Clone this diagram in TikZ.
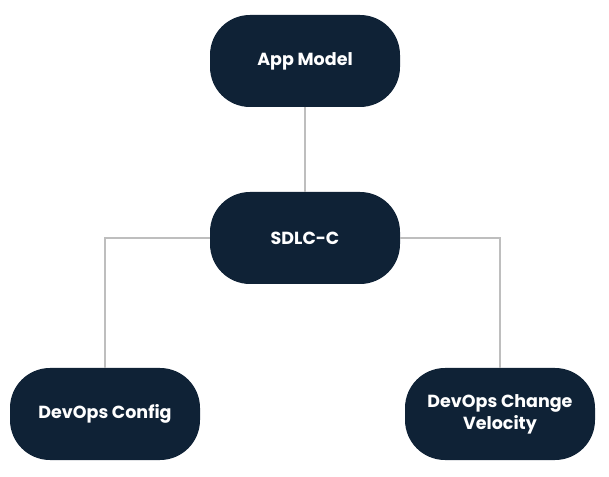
\documentclass[tikz,border=0pt]{standalone}
\usepackage{fontspec}
\setmainfont{Poppins}
\begin{document}
\begin{tikzpicture}[x=1pt,y=1pt,
  box/.style={draw=none,fill={rgb,255:red,15;green,34;blue,54},rounded corners=40pt,minimum width=190pt,minimum height=92pt,text=white,font=\bfseries\fontsize{17.5}{22}\selectfont,align=center,inner sep=0pt},
  link/.style={draw={rgb,255:red,190;green,190;blue,190},line width=1.2pt}]
\useasboundingbox (0,0) rectangle (609,476);
\node[box] (app) at (305,415) {App Model};
\node[box] (sdlc) at (305,238) {SDLC-C};
\node[box] (cfg) at (105,62) {DevOps Config};
\node[box] (vel) at (500,62) {DevOps Change\\Velocity};
\draw[link] (app.south) -- (sdlc.north);
\draw[link] (sdlc.west) -| (cfg.north);
\draw[link] (sdlc.east) -| (vel.north);
\end{tikzpicture}
\end{document}
